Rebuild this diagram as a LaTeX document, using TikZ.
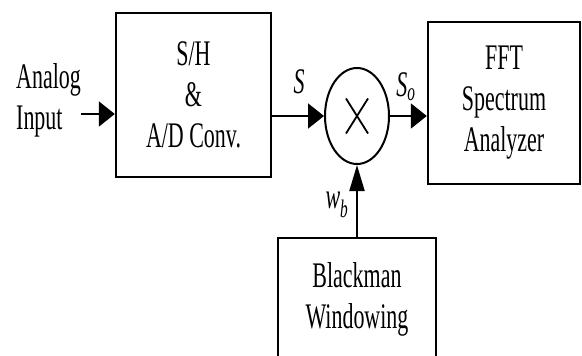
\documentclass[tikz,border=0pt]{standalone}
\usepackage{fontspec}
\setmainfont[FakeStretch=0.61]{Liberation Serif}
\usetikzlibrary{arrows.meta,shapes.geometric}

\begin{document}
\begin{tikzpicture}[
		x=1pt,y=-1pt,
		every node/.style={font=\fontsize{36}{41}\selectfont},
		block/.style={draw,line width=2.4pt,align=center,inner sep=0pt},
		signal/.style={line width=2pt,-{Triangle[length=16pt,width=25pt]}},
		upsignal/.style={line width=2pt,-{Triangle[length=26pt,width=15pt]}},
		lbl/.style={font=\fontsize{36}{41}\selectfont\itshape,inner sep=0pt}
		]
		\clip (0,0) rectangle (582,356);
		\node[align=left,anchor=west,inner sep=0pt] (ain) at (16,100) {Analog\\Input};
		\node[block,minimum width=155pt,minimum height=164pt] (sh) at (193.5,95) {S/H\\\&\\A/D Conv.};
		\node[draw,ellipse,line width=2pt,minimum width=64pt,minimum height=96pt,inner sep=0pt] (mix) at (357,116) {};
		\node[block,minimum width=152pt,minimum height=162pt] (fft) at (504,103) {FFT\\Spectrum\\Analyzer};
		\node[block,minimum width=158pt,minimum height=122pt] (bw) at (357,299) {Blackman\\Windowing};
		\coordinate (in) at (81,114);
		\draw[line width=1.8pt] ([shift={(-11,-17.5)}]mix.center) -- ([shift={(11,17.5)}]mix.center);
		\draw[line width=1.8pt] ([shift={(-11,17.5)}]mix.center) -- ([shift={(11,-17.5)}]mix.center);
		\draw[signal] (in) -- (in -| sh.west);
		\draw[signal] (sh.east |- mix.west) -- (mix.west);
		\draw[signal] (mix.east) -- (mix.east -| fft.west);
		\draw[upsignal] (bw.north) -- (mix.south);
		\node[lbl] (s) at (299,82) {S};
		\node[lbl] (so) at (406,87) {S\textsubscript{o}};
		\node[lbl] (wb) at (337,205) {w\textsubscript{b}};
	\end{tikzpicture}
\end{document}
